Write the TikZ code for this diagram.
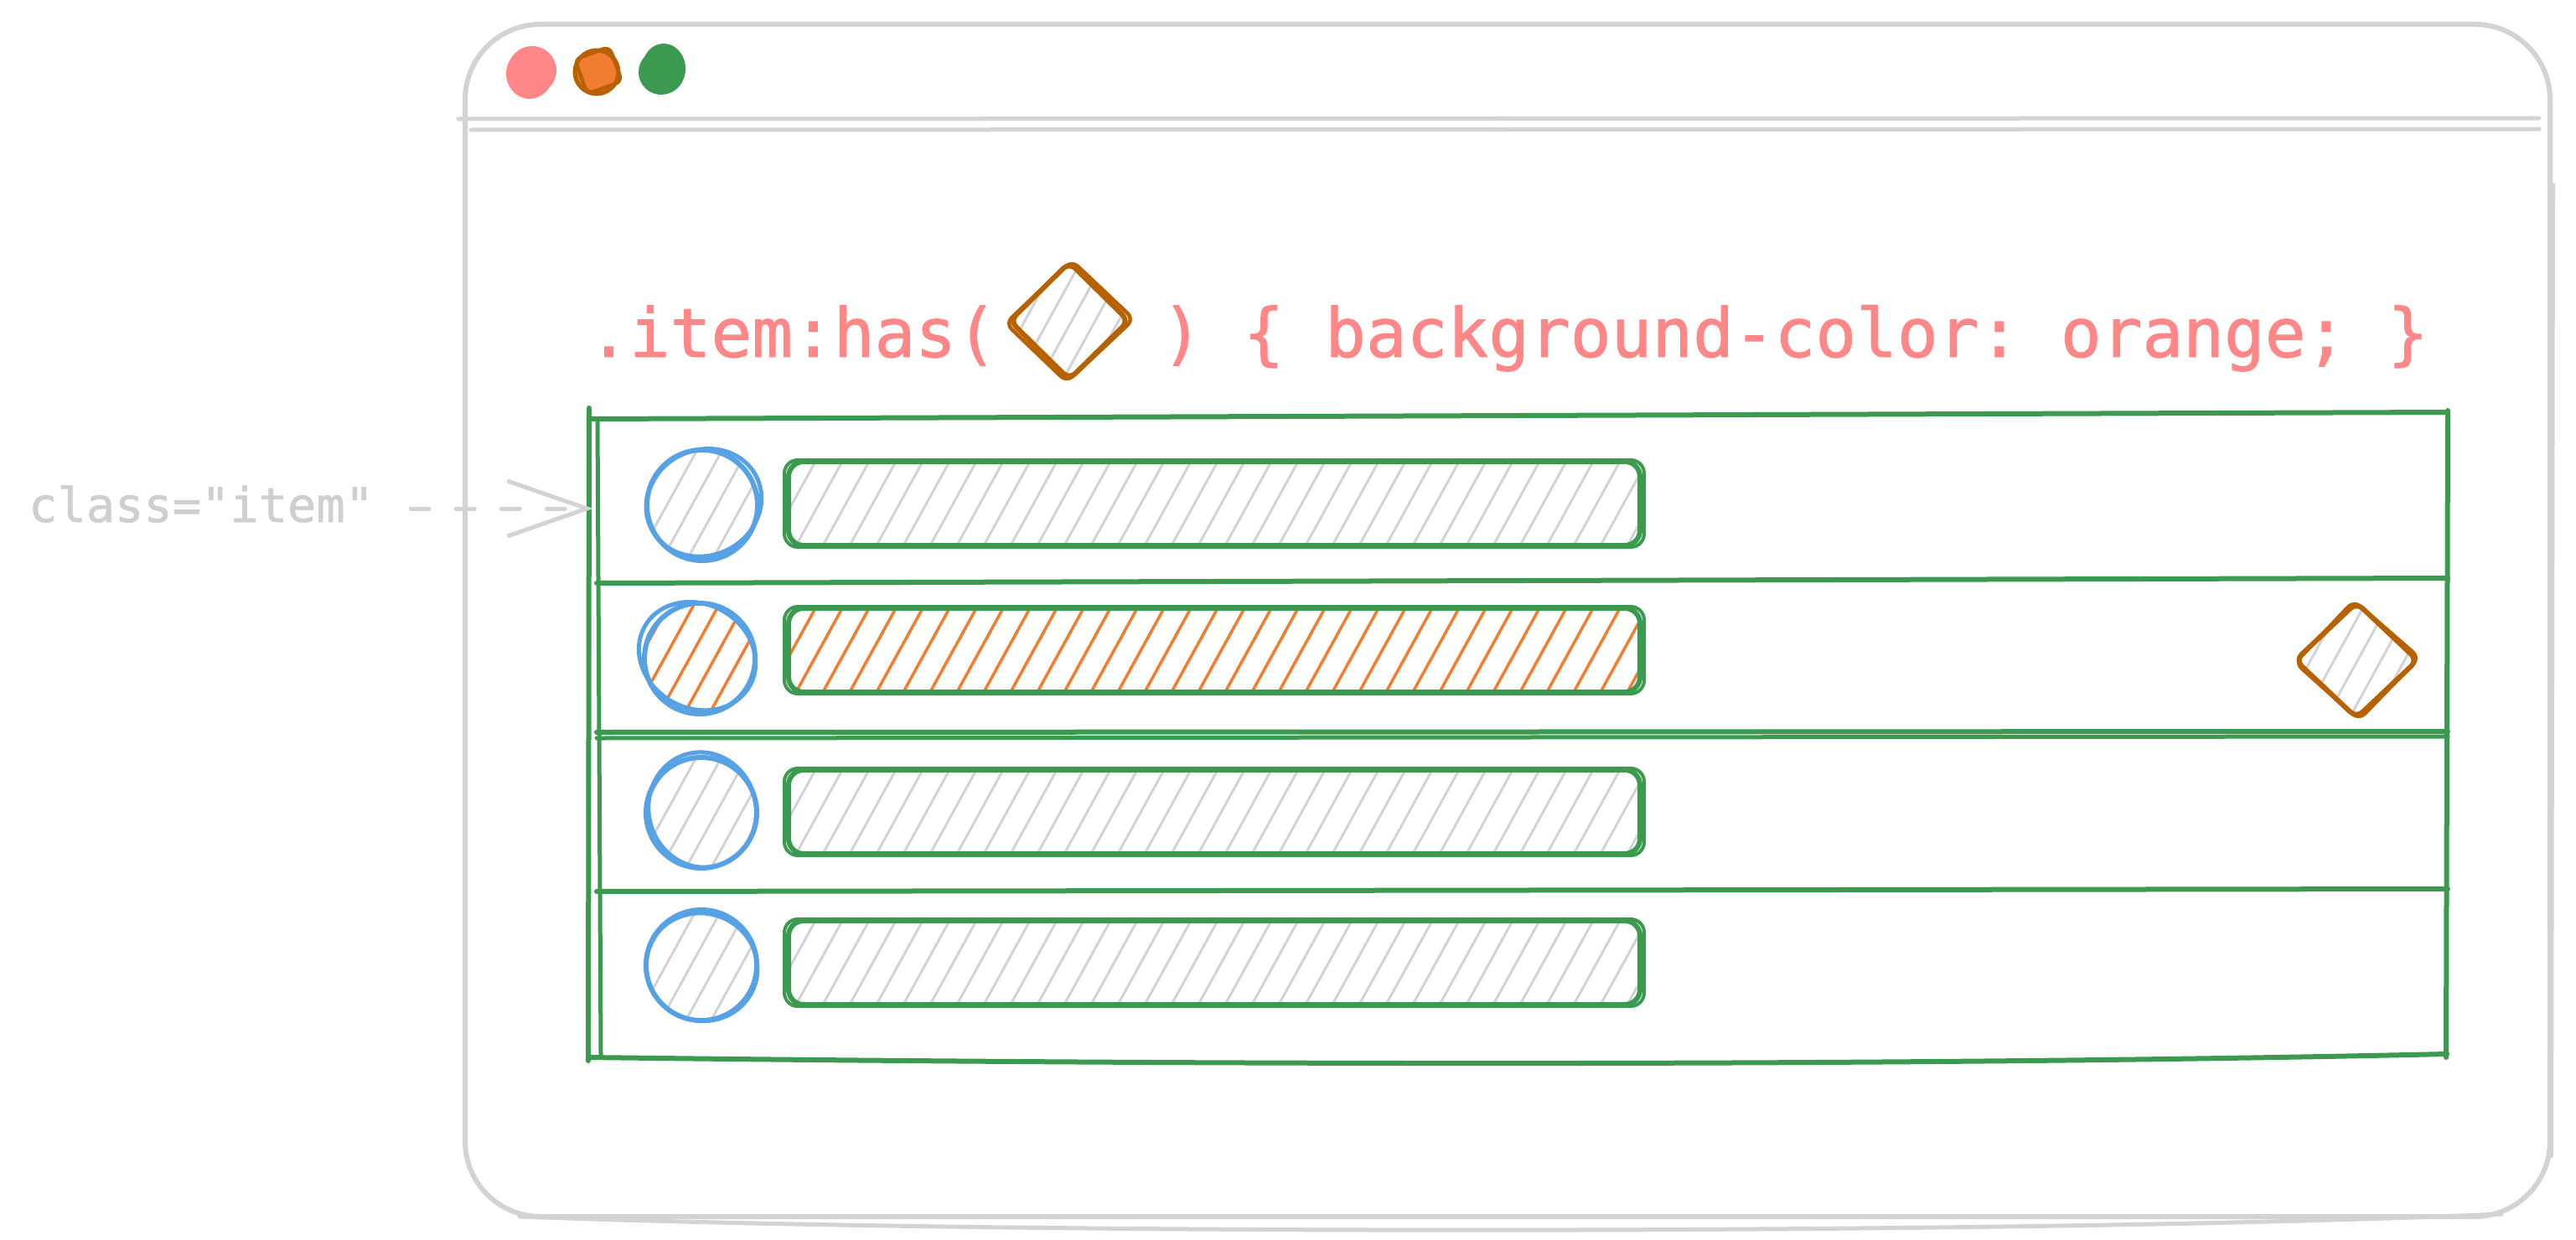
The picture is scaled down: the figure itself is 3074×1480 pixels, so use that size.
\documentclass[tikz,border=0pt]{standalone}
\usepackage{fontspec}
\newfontfamily\codefont[FakeBold=1.2]{DejaVu Sans Mono}
\usetikzlibrary{arrows.meta,shapes.geometric}

\definecolor{sketchgrey}{HTML}{D3D3D3}
\definecolor{labelgrey}{HTML}{CFCFCF}
\definecolor{salmon}{HTML}{FF8787}
\definecolor{leaf}{HTML}{3C9A50}
\definecolor{sky}{HTML}{56A2E5}
\definecolor{rust}{HTML}{B86100}
\definecolor{tangerine}{HTML}{F07D32}

% Diagonal hachure inside the current path picture (#1 line style, #2 spacing in pt)
\newcommand\hatchfill[2]{%
  \path (path picture bounding box.south west); \pgfgetlastxy{\hatchXa}{\hatchYa}%
  \path (path picture bounding box.north east); \pgfgetlastxy{\hatchXb}{\hatchYb}%
  \pgfmathsetmacro\hatchH{\hatchYb-\hatchYa}%
  \pgfmathsetmacro\hatchD{0.55*\hatchH}%
  \pgfmathtruncatemacro\hatchN{(\hatchXb-\hatchXa+\hatchD)/#2+1}%
  \foreach \k in {0,...,\hatchN}{%
    \draw[#1] ([xshift={#2*\k pt-\hatchD pt}]path picture bounding box.south west)
      -- ++(\hatchD pt,\hatchH pt);}%
}

\begin{document}
\begin{tikzpicture}[x=1pt,y=-1pt,line cap=round,line join=round,
  winline/.style={draw=sketchgrey,line width=6pt},
  greenline/.style={draw=leaf,line width=6pt},
  hatchgrey/.style={draw=sketchgrey,line width=3pt},
  hatchorange/.style={draw=tangerine,line width=3.5pt},
  avatar/.style={circle,draw=sky,line width=6pt,minimum size=132pt,inner sep=0pt,
    path picture={\hatchfill{#1}{30}}},
  bar/.style={rectangle,rounded corners=18pt,draw=leaf,line width=6pt,
    minimum width=1016pt,minimum height=100pt,inner sep=0pt,
    path picture={\hatchfill{#1}{32}}},
  gem/.style={diamond,draw=rust,line width=6pt,rounded corners=10pt,inner sep=0pt,
    minimum width=144pt,minimum height=142pt,path picture={\hatchfill{hatchgrey}{28}}},
  code/.style={anchor=base west,inner sep=0pt,text=salmon,
    font=\codefont\frenchspacing\fontsize{81}{97}\selectfont},
  hint/.style={anchor=base west,inner sep=0pt,text=labelgrey,
    font=\codefont\frenchspacing\fontsize{57}{68}\selectfont}]

\useasboundingbox (0,0) rectangle (3074,1480);

% browser window
\draw[winline,rounded corners=90pt] (555,29) rectangle (3043,1452);
\draw[winline,line width=5pt] (620,1452) .. controls (1200,1474) and (2400,1474) .. (2985,1449);
\draw[winline,line width=4pt] (3047,220) -- (3045,1380);
\draw[winline,line width=5pt] (547,142) -- (3030,141);
\draw[winline,line width=5pt] (562,155) -- (3030,154);

% window buttons
\fill[salmon] (635,84) circle[radius=29pt];
\fill[salmon] (632,88) ellipse[x radius=28pt,y radius=30pt];
\fill[tangerine] (712,85) circle[radius=25pt];
\draw[rust,line width=5pt] (712,86) circle[radius=26pt];
\draw[rust,line width=4.5pt,rounded corners=8pt,rotate around={20:(714,84)}] (692,62) rectangle (736,106);
\fill[leaf] (789,86) circle[radius=27pt];
\fill[leaf] (792,82) ellipse[x radius=26pt,y radius=30pt];

% selector line
\node[code] (selA) at (702,426) {.item:has(};
\node[gem] (gemA) at (1276,383) {};
\draw[rust,line width=4.5pt,rounded corners=10pt]
  ([xshift=3pt,yshift=-2pt]gemA.north) -- ([xshift=2pt,yshift=2pt]gemA.east)
  -- ([xshift=-3pt,yshift=1pt]gemA.south) -- ([xshift=-1pt,yshift=-3pt]gemA.west) -- cycle;
\node[code] (selB) at (1386,426) {) \{ background-color: orange; \}};

% list container
\draw[greenline] (703,487) -- (702,1266);
\draw[greenline,line width=5pt] (713,500) -- (717,1258);
\draw[greenline] (703,500) -- (2921,492);
\draw[greenline] (712,696) -- (2921,690);
\draw[greenline] (712,874) -- (2921,873);
\draw[greenline,line width=5pt] (712,881) -- (2921,879);
\draw[greenline] (712,1064) -- (2921,1061);
\draw[greenline] (702,1262) .. controls (1500,1272) and (2300,1272) .. (2920,1258);
\draw[greenline] (2921,490) -- (2919,1262);

% list items
\node[avatar=hatchgrey] (av1) at (838,603) {};
\node[bar=hatchgrey] (bar1) at (1449,601) {};
\node[avatar=hatchorange] (av2) at (835,786) {};
\node[bar=hatchorange] (bar2) at (1449,776) {};
\node[avatar=hatchgrey] (av3) at (837,970) {};
\node[bar=hatchgrey] (bar3) at (1449,969) {};
\node[avatar=hatchgrey] (av4) at (837,1152) {};
\node[bar=hatchgrey] (bar4) at (1449,1149) {};

% second pencil strokes
\draw[sky,line width=5pt,rotate around={25:(av1.center)}] ([xshift=3pt,yshift=2pt]av1.center) ellipse[x radius=70pt,y radius=63pt];
\draw[sky,line width=5pt,rotate around={-30:(av2.center)}] ([xshift=-4pt,yshift=1pt]av2.center) ellipse[x radius=72pt,y radius=62pt];
\draw[sky,line width=5pt,rotate around={15:(av3.center)}] ([xshift=2pt,yshift=3pt]av3.center) ellipse[x radius=64pt,y radius=69pt];
\draw[sky,line width=5pt,rotate around={-20:(av4.center)}] ([xshift=1pt,yshift=-2pt]av4.center) ellipse[x radius=67pt,y radius=64pt];
\foreach \b in {bar1,bar2,bar3,bar4}{
  \draw[leaf,line width=4pt,rounded corners=16pt]
    ([xshift=-2pt,yshift=1pt]\b.south west) rectangle ([xshift=2pt,yshift=-1pt]\b.north east);}

% the marker inside the second item
\node[gem,minimum width=148pt,minimum height=140pt] (gemB) at (2812,788) {};
\draw[rust,line width=4.5pt,rounded corners=10pt]
  ([xshift=-3pt,yshift=-2pt]gemB.north) -- ([xshift=-2pt,yshift=3pt]gemB.east)
  -- ([xshift=3pt,yshift=2pt]gemB.south) -- ([xshift=4pt,yshift=-3pt]gemB.west) -- cycle;

% annotation
\node[hint] (lbl) at (34,623) {class="item"};
\coordinate (itemedge) at (708,607);
\draw[sketchgrey,line width=5pt,dash pattern=on 22pt off 32pt,shorten <=44pt,
  -{Straight Barb[length=95pt,width=66pt]}] (lbl.east |- itemedge) -- (itemedge);

\end{tikzpicture}
\end{document}
